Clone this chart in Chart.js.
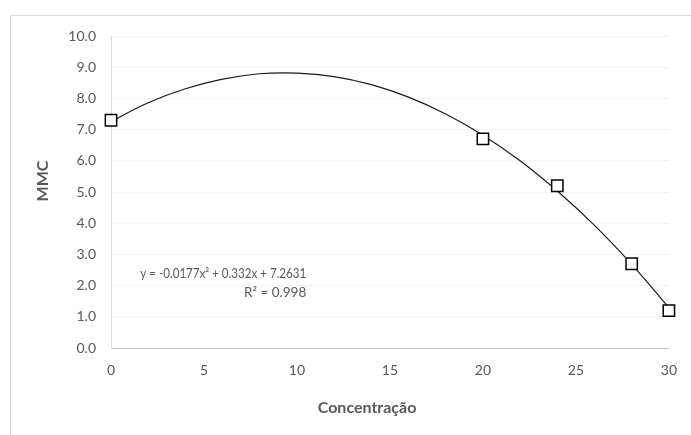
<!DOCTYPE html>
<html><head><meta charset="utf-8">
<script src="https://cdn.jsdelivr.net/npm/chart.js@4/dist/chart.umd.min.js"></script>
<style>html,body{margin:0;padding:0;background:#fff}#wrap{width:691px;height:435px}</style>
</head><body><div id="wrap"><canvas id="c" width="691" height="435"></canvas></div>
<script>
const concentracao = [0, 20, 24, 28, 30];
const mmc = [7.3, 6.7, 5.2, 2.7, 1.2];
const trendX = [0, 2, 4, 6, 8, 10, 12, 14, 16, 18, 20, 22, 24, 26, 28, 30];
const trendY = [7.26, 7.86, 8.31, 8.62, 8.79, 8.81, 8.70, 8.44, 8.04, 7.50, 6.82, 6.00, 5.03, 3.93, 2.68, 1.29];
const equationLines = ['y = -0.0177x² + 0.332x + 7.2631', 'R² = 0.998'];
const equationAnchor = {x: 10.5, y: [2.38, 1.77]};
const xTitle = 'Concentração';
const yTitle = 'MMC';

const FONT = "Lato, 'Open Sans', sans-serif";
const GRAY = '#595959';

const frame = {
  id: 'frame',
  beforeDraw(chart) {
    const ctx = chart.ctx;
    ctx.save();
    ctx.strokeStyle = '#d9d9d9';
    ctx.lineWidth = 1;
    ctx.beginPath();
    ctx.moveTo(10.5, 440);
    ctx.lineTo(10.5, 15.5);
    ctx.lineTo(700, 15.5);
    ctx.stroke();
    ctx.restore();
  },
  afterDraw(chart) {
    const ctx = chart.ctx, xs = chart.scales.x, ys = chart.scales.y, ca = chart.chartArea;
    ctx.save();
    ctx.fillStyle = GRAY;
    ctx.textBaseline = 'middle';
    // trendline label
    ctx.font = '13.5px ' + FONT;
    ctx.textAlign = 'right';
    const xr = xs.getPixelForValue(equationAnchor.x);
    ctx.fillText(equationLines[0], xr, ys.getPixelForValue(equationAnchor.y[0]), 166);
    ctx.fillText(equationLines[1], xr, ys.getPixelForValue(equationAnchor.y[1]));
    // axis titles
    ctx.font = 'bold 16px ' + FONT;
    ctx.textAlign = 'center';
    ctx.fillText(xTitle, ca.left + (ca.right - ca.left) * 0.459, ca.bottom + 60);
    ctx.translate(43, ca.top + (ca.bottom - ca.top) * 0.465);
    ctx.rotate(-Math.PI / 2);
    ctx.fillText(yTitle, 0, 0);
    ctx.restore();
  }
};

const trendData = trendX.map((x, i) => ({x, y: trendY[i]}));
const pointData = concentracao.map((x, i) => ({x, y: mmc[i]}));

new Chart(document.getElementById('c'), {
  type: 'scatter',
  data: {
    datasets: [
      {
        data: pointData,
        showLine: false,
        clip: false,
        pointStyle: 'rect',
        pointRadius: 8,
        pointBorderWidth: 1.5,
        pointBorderColor: '#000',
        pointBackgroundColor: '#fff',
        order: 0
      },
      {
        data: trendData,
        showLine: true,
        clip: false,
        borderColor: '#1a1a1a',
        borderWidth: 1.2,
        pointRadius: 0,
        tension: 0.4,
        order: 1
      }
    ]
  },
  options: {
    responsive: false,
    animation: false,
    events: [],
    layout: {padding: {left: 29, top: 36, right: 21, bottom: 13}},
    plugins: {legend: {display: false}, tooltip: {enabled: false}},
    scales: {
      x: {
        type: 'linear', min: 0, max: 30,
        ticks: {stepSize: 5, color: GRAY, font: {family: FONT, size: 14}, padding: 14, maxRotation: 0},
        grid: {display: false, drawTicks: false},
        border: {display: true, color: '#bfbfbf', width: 1},
        title: {display: false},
        afterFit(s) { s.height = 74; }
      },
      y: {
        type: 'linear', min: 0, max: 10,
        ticks: {stepSize: 1, color: GRAY, font: {family: FONT, size: 14}, padding: 15, callback: v => v.toFixed(1)},
        grid: {color: '#f2f2f2', drawTicks: false},
        border: {display: true, color: '#d9d9d9', width: 1},
        title: {display: false},
        afterFit(s) { s.width = 82; }
      }
    }
  },
  plugins: [frame]
});
</script></body></html>
